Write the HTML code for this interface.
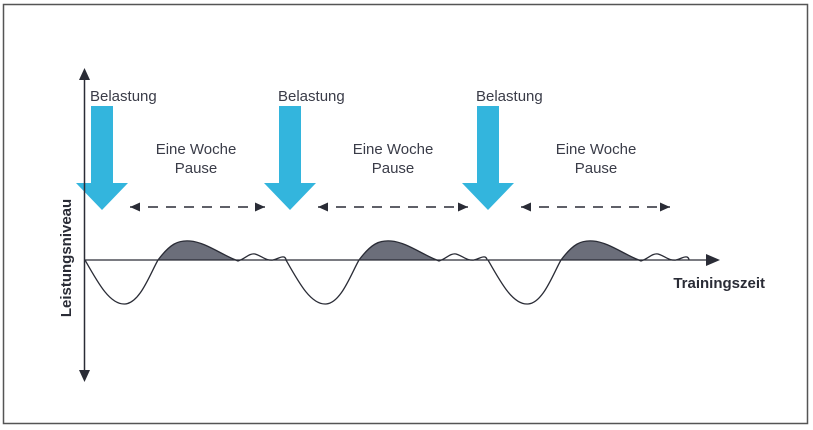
<!DOCTYPE html>
<html><head><meta charset="utf-8"><style>
html,body{margin:0;padding:0;background:#fff;}
svg{display:block;}
</style></head><body>
<svg width="813" height="430" viewBox="0 0 813 430" xmlns="http://www.w3.org/2000/svg">
<rect x="3.5" y="4.5" width="804" height="419" fill="#fff" stroke="#555" stroke-width="1.5"/>
<defs>
<g id="wave">
<path d="M158,260 C170,244 178,240 190,241 C205,242 222,255 238,260 Z" fill="#6b6e7a"/>
<path d="M85,260 C98,283 110,305 125,304 C140,303 150,274 158,260 C170,244 178,240 190,241 C205,242 222,255 238,261 C245,259 249,253 255,254 C262,256 266,261 273,260 C278,259 281,256 284,257 C286,258 286,259 286,260" fill="none" stroke="#2a2c36" stroke-width="1.3"/>
</g>
<g id="arr">
<rect x="91" y="106" width="22" height="78" fill="#33b5dd"/>
<polygon points="76,183 128,183 102,210" fill="#33b5dd"/>
<text x="90" y="101" font-family="Liberation Sans, sans-serif" font-size="15" fill="#3a3c48">Belastung</text>
</g>
<marker id="ah" viewBox="0 0 10 10" refX="10" refY="5" markerWidth="10" markerHeight="10" markerUnits="userSpaceOnUse" orient="auto-start-reverse"><path d="M0,0.5 L10,5 L0,9.5 Z" fill="#2a2c36"/></marker>
</defs>
<use href="#wave"/>
<use href="#wave" transform="translate(201,0)"/>
<use href="#wave" transform="translate(403,0)"/>
<use href="#arr"/>
<use href="#arr" transform="translate(188,0)"/>
<use href="#arr" transform="translate(386,0)"/>
<g stroke="#2a2c36" stroke-width="1.6" stroke-dasharray="10,8" fill="none">
<line x1="130" y1="207" x2="265" y2="207" marker-start="url(#ah)" marker-end="url(#ah)"/>
<line x1="318" y1="207" x2="468" y2="207" marker-start="url(#ah)" marker-end="url(#ah)"/>
<line x1="521" y1="207" x2="670" y2="207" marker-start="url(#ah)" marker-end="url(#ah)"/>
</g>
<g font-family="Liberation Sans, sans-serif" font-size="15" fill="#3a3c48" text-anchor="middle">
<text x="196" y="154">Eine Woche</text><text x="196" y="173">Pause</text>
<text x="393" y="154">Eine Woche</text><text x="393" y="173">Pause</text>
<text x="596" y="154">Eine Woche</text><text x="596" y="173">Pause</text>
</g>
<line x1="84.5" y1="78" x2="84.5" y2="372" stroke="#2a2c36" stroke-width="1.5"/>
<polygon points="84.5,68 79,80 90,80" fill="#2a2c36"/>
<polygon points="84.5,382 79,370 90,370" fill="#2a2c36"/>
<line x1="84" y1="260" x2="708" y2="260" stroke="#2a2c36" stroke-width="1.3"/>
<polygon points="720,260 706,254 706,266" fill="#2a2c36"/>
<text x="765" y="288" text-anchor="end" font-family="Liberation Sans, sans-serif" font-size="15" font-weight="bold" fill="#2a2c36">Trainingszeit</text>
<text transform="translate(71,258) rotate(-90)" text-anchor="middle" font-family="Liberation Sans, sans-serif" font-size="15" font-weight="bold" fill="#2a2c36">Leistungsniveau</text>
</svg>
</body></html>
